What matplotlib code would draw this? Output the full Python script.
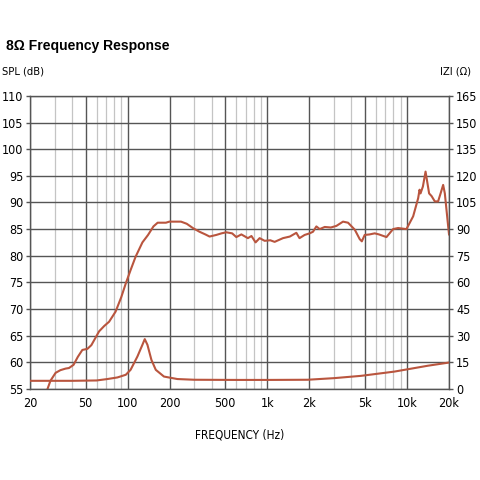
import matplotlib
matplotlib.use("Agg")
import matplotlib.pyplot as plt
from matplotlib.ticker import FixedLocator, NullFormatter

# SPL curve (Hz, dB)
spl_freq = [25.5, 28, 30.5, 33, 36, 38, 41, 44, 47.4, 51.5, 55, 62.5, 68, 73.7, 82, 90, 97, 105, 114,
            127.6, 140, 153, 164, 175, 188, 199, 215, 241, 265, 293, 327, 360, 386, 431, 470, 508,
            560, 600, 652, 726, 770, 824, 881, 957, 1050, 1128, 1295, 1450, 1614, 1700, 1850, 2010,
            2123, 2245, 2372, 2577, 2850, 3123, 3483, 3784, 4226, 4590, 4750, 4980, 5400, 5875, 6300,
            7130, 7950, 8630, 9910, 11070, 12020, 12300, 12500, 13000, 13580, 14400, 15000, 15820,
            16700, 17400, 18150, 18660, 19720, 20000]
spl_db = [53.5, 56.5, 58.0, 58.5, 58.8, 58.9, 59.5, 61.0, 62.3, 62.5, 63.2, 65.8, 66.8, 67.6, 69.5, 72.2,
          74.8, 77.3, 79.8, 82.5, 83.9, 85.5, 86.2, 86.2, 86.2, 86.4, 86.4, 86.4, 86.0, 85.2, 84.5,
          84.0, 83.6, 83.9, 84.2, 84.4, 84.2, 83.5, 84.0, 83.3, 83.7, 82.5, 83.3, 82.8, 82.9, 82.6,
          83.3, 83.6, 84.3, 83.3, 83.9, 84.2, 84.5, 85.5, 85.0, 85.4, 85.3, 85.6, 86.4, 86.2, 84.9,
          83.1, 82.7, 83.9, 84.0, 84.2, 84.0, 83.5, 85.0, 85.2, 85.0, 87.4, 90.8, 92.4, 91.7, 93.0,
          95.8, 91.7, 91.2, 90.2, 90.2, 91.7, 93.3, 91.7, 85.5, 84.0]

# impedance curve (Hz, ohm)
imp_freq = [20, 40, 60, 71.6, 84.5, 97, 105, 117.5, 127.6, 132.6, 138.6, 148, 159, 182, 227, 300,
            600, 1000, 1945, 3000, 4690, 8130, 14100, 20000]
imp_ohm = [4.5, 4.5, 4.7, 5.5, 6.4, 7.9, 10.7, 18.2, 24.8, 28.0, 24.8, 16.3, 10.7, 6.9, 5.5, 5.1,
           5.0, 5.0, 5.1, 6.0, 7.3, 9.7, 13.0, 14.8]

major_x = [20, 50, 100, 200, 500, 1000, 2000, 5000, 10000, 20000]
major_lbl = ["20", "50", "100", "200", "500", "1k", "2k", "5k", "10k", "20k"]
minor_x = [30, 40, 60, 70, 80, 90, 300, 400, 600, 700, 800, 900,
           3000, 4000, 6000, 7000, 8000, 9000]
spl_ticks = list(range(55, 111, 5))
imp_ticks = list(range(0, 166, 15))

plt.rcParams['font.family'] = ['DejaVu Sans']
plt.rcParams['font.stretch'] = 'condensed'

line_col = '#b9553e'
major_col = '#555555'
minor_col = '#c4c4c4'

fig = plt.figure(figsize=(4.8, 4.8), dpi=100)
ax = fig.add_axes([0.0625, 0.19, 0.873, 0.61])
ax.set_xscale('log')
ax.set_xlim(20, 20000)
ax.set_ylim(55, 110)

ax.xaxis.set_major_locator(FixedLocator(major_x))
ax.set_xticklabels(major_lbl)
ax.xaxis.set_minor_locator(FixedLocator(minor_x))
ax.xaxis.set_minor_formatter(NullFormatter())
ax.set_yticks(spl_ticks)
ax.grid(True, which='major', color=major_col, linewidth=1.0)
ax.grid(True, which='minor', axis='x', color=minor_col, linewidth=0.9)
ax.tick_params(axis='x', which='both', length=0, pad=6, labelsize=9)
ax.tick_params(axis='y', length=3, width=1, color=major_col, pad=2, labelsize=9)
for s in ax.spines.values():
    s.set_color(major_col)
    s.set_linewidth(1.0)
ax.set_axisbelow(True)

ax.plot(spl_freq, spl_db, color=line_col, linewidth=1.5, clip_on=True)

ax2 = ax.twinx()
ax2.set_ylim(0, 165)
ax2.set_yticks(imp_ticks)
ax2.tick_params(axis='y', length=3, width=1, color=major_col, pad=2, labelsize=9)
for s in ax2.spines.values():
    s.set_visible(False)
ax2.plot(imp_freq, imp_ohm, color=line_col, linewidth=1.5)

fig.text(0.012, 0.905, "8Ω Frequency Response", fontsize=10, fontweight='bold',
         family=['Liberation Sans', 'DejaVu Sans'], stretch='normal', va='center', ha='left')
fig.text(0.004, 0.85, "SPL (dB)", fontsize=8, va='center', ha='left')
fig.text(0.982, 0.85, "IZI (Ω)", fontsize=8, va='center', ha='right')
fig.text(0.5, 0.094, "FREQUENCY (Hz)", fontsize=8.5, va='center', ha='center')

fig.savefig("out.png", dpi=100)
